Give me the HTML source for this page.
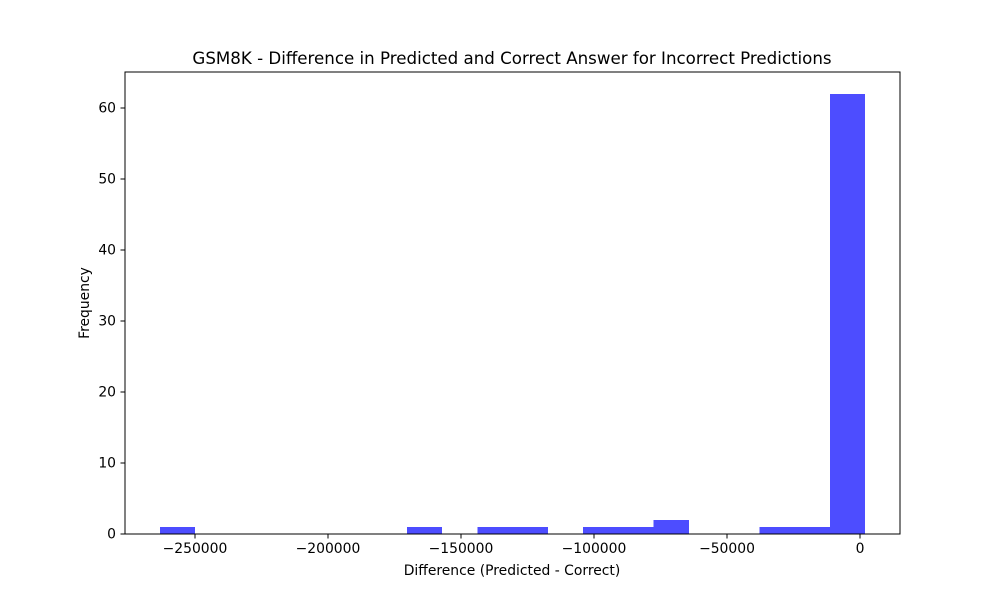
<!DOCTYPE html>
<html><head><meta charset="utf-8"><style>
body{margin:0;background:#fff;font-family:"Liberation Sans","DejaVu Sans",sans-serif}
svg text{font-family:"DejaVu Sans","Liberation Sans",sans-serif}
</style></head><body>
<svg id="chart" width="1000" height="600" xmlns="http://www.w3.org/2000/svg">
<rect width="1000" height="600" fill="#fff"/>
<text x="512" y="64" text-anchor="middle" font-size="16.67">GSM8K - Difference in Predicted and Correct Answer for Incorrect Predictions</text>
<g id="bars" shape-rendering="crispEdges"></g>
<rect x="125" y="72" width="775" height="462" fill="none" stroke="#000" stroke-width="1"/>
<g id="xt"></g><g id="yt"></g>
<text x="512" y="575" text-anchor="middle" font-size="13.9">Difference (Predicted - Correct)</text>
<text x="89" y="303" text-anchor="middle" font-size="13.9" transform="rotate(-90 89 303)">Frequency</text>
</svg>
<script>
const binMin = -263158;
const binMax = 1880;
const counts = [1,0,0,0,0,0,0,1,0,1,1,0,1,1,2,0,0,1,1,62];
const xTicks = [-250000,-200000,-150000,-100000,-50000,0];
const xTickLabels = ["\u2212250000","\u2212200000","\u2212150000","\u2212100000","\u221250000","0"];
const yTicks = [0,10,20,30,40,50,60];
const NS="http://www.w3.org/2000/svg";
const X = v => 860 + v*0.00266;
const Y = v => 534 - v*7.1;
const bars=document.getElementById('bars');
const w=(binMax-binMin)/counts.length;
counts.forEach((c,i)=>{
  if(!c) return;
  const r=document.createElementNS(NS,'rect');
  
  
  const x0=X(binMin+i*w), x1=X(binMin+(i+1)*w);
  r.setAttribute('x',x0);r.setAttribute('width',x1-x0);
  r.setAttribute('y',Y(c));r.setAttribute('height',Y(0)-Y(c));
  r.setAttribute('fill','#4d4dff');
  bars.appendChild(r);
});
const xt=document.getElementById('xt');
xTicks.forEach((t,i)=>{
  const l=document.createElementNS(NS,'line');
  
  
  l.setAttribute('x1',X(t));l.setAttribute('x2',X(t));l.setAttribute('y1',534);l.setAttribute('y2',538.5);l.setAttribute('stroke','#000');
  xt.appendChild(l);
  const s=document.createElementNS(NS,'text');
  
  
  s.setAttribute('x',X(t));s.setAttribute('y',553);s.setAttribute('text-anchor','middle');s.setAttribute('font-size','13.9');
  s.textContent=xTickLabels[i];xt.appendChild(s);
});
const yt=document.getElementById('yt');
yTicks.forEach(t=>{
  const l=document.createElementNS(NS,'line');
  
  
  l.setAttribute('x1',120.5);l.setAttribute('x2',125);l.setAttribute('y1',Y(t));l.setAttribute('y2',Y(t));l.setAttribute('stroke','#000');
  yt.appendChild(l);
  const s=document.createElementNS(NS,'text');
  
  
  s.setAttribute('x',116);s.setAttribute('y',Y(t)+4.5);s.setAttribute('text-anchor','end');s.setAttribute('font-size','13.9');
  s.textContent=t;yt.appendChild(s);
});
</script>
</body></html>
